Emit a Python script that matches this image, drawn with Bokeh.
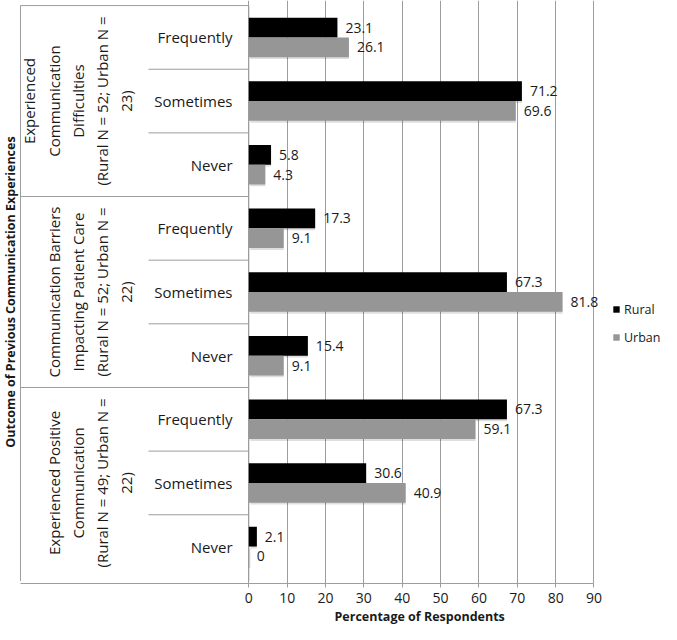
import math
from bokeh.plotting import figure
from bokeh.models import (FactorRange, Range1d, FixedTicker, Legend, LegendItem,
                          Title, ColumnDataSource)
from bokeh.transform import dodge
from bokeh.core.properties import value
from bokeh.embed import file_html
from bokeh.resources import INLINE

# ---------------- data ----------------
group_keys = ["Difficulties", "Barriers", "Positive"]
group_labels = [
    "Experienced\nCommunication\nDifficulties\n(Rural N = 52; Urban N =\n23)",
    "Communication Barriers\nImpacting Patient Care\n(Rural N = 52; Urban N =\n22)",
    "Experienced Positive\nCommunication\n(Rural N = 49; Urban N =\n22)",
]
responses = ["Frequently", "Sometimes", "Never"]
rural = [23.1, 71.2, 5.8, 17.3, 67.3, 15.4, 67.3, 30.6, 2.1]
urban = [26.1, 69.6, 4.3, 9.1, 81.8, 9.1, 59.1, 40.9, 0.0]
series_names = ["Rural", "Urban"]
x_ticks = [0, 10, 20, 30, 40, 50, 60, 70, 80, 90]
y_title = "Outcome of Previous Communication Experiences"
x_title = "Percentage of Respondents"

# ---------------- style / layout ----------------
FONT = "Open Sans"
TXT = "#1a1a1a"
LINE = "#9d9d9d"
RURAL_C = "#000000"
URBAN_C = "#969696"
PAD = 0.08
BAR_H = 0.31
TABLE_LEFT = -59.53
SUB_LEFT = -26.15
SUB_TEXT_X = -4.25
GROUP_TEXT_X = -29.36
YTITLE_X = -62.1

rows = [(g, r) for g in group_keys for r in responses]  # top -> bottom
last_in_group = [r == responses[-1] for (g, r) in rows]

yr = FactorRange(factors=list(reversed(rows)), range_padding=PAD,
                 range_padding_units="absolute", group_padding=0,
                 factor_padding=0)

p = figure(width=661, height=624, x_range=Range1d(-64.74, 107.6), y_range=yr,
           y_axis_location=None, output_backend="svg", toolbar_location=None,
           min_border_left=0, min_border_right=0, min_border_top=0,
           min_border_bottom=0, outline_line_color=None,
           background_fill_color="white", border_fill_color="white")

p.ygrid.visible = False
p.xgrid.ticker = FixedTicker(ticks=x_ticks)
p.xgrid.grid_line_color = LINE
p.xgrid.grid_line_width = 1

ax = p.xaxis[0]
ax.ticker = FixedTicker(ticks=x_ticks)
ax.bounds = (TABLE_LEFT, 90)
ax.axis_line_color = LINE
ax.major_tick_line_color = LINE
ax.major_tick_out = 4
ax.major_tick_in = 0
ax.minor_tick_line_color = None
ax.major_label_standoff = 5
ax.major_label_text_font = FONT
ax.major_label_text_font_size = "14px"
ax.major_label_text_color = TXT

src = ColumnDataSource(dict(
    row=rows,
    rural=rural,
    urban=urban,
    rural_lbl=[f"{v:g}" for v in rural],
    urban_lbl=[f"{v:g}" for v in urban],
    resp=[r for (g, r) in rows],
))

# table lines: row separators (the last one is the axis line itself)
sep = ColumnDataSource(dict(
    row=rows[:-1],
    x0=[TABLE_LEFT if last else SUB_LEFT for last in last_in_group[:-1]],
    x1=[0] * (len(rows) - 1),
))
p.segment(x0="x0", x1="x1", y0=dodge("row", -0.5, range=yr),
          y1=dodge("row", -0.5, range=yr), source=sep, line_color=LINE, line_width=1)

# top border
p.segment(x0=TABLE_LEFT, x1=0, y0=dodge("top", 0.5, range=yr), y1=dodge("top", 0.5, range=yr),
          source=ColumnDataSource(dict(top=[rows[0]])), line_color=LINE, line_width=1)
# left border and y axis line
vert = ColumnDataSource(dict(top=[rows[0], rows[0]], bot=[rows[-1], rows[-1]],
                             x=[TABLE_LEFT, 0]))
p.segment(x0="x", x1="x", y0=dodge("bot", -0.5 - PAD / 2, range=yr),
          y1=dodge("top", 0.5, range=yr), source=vert, line_color=LINE, line_width=1)

# bar shadows
p.hbar(y=dodge("row", BAR_H / 2 - 0.03, range=yr), left=0.4, right="rural", height=BAR_H,
       source=src, fill_color="black", fill_alpha=0.13, line_color=None)
p.hbar(y=dodge("row", -BAR_H / 2 - 0.03, range=yr), left=0.4, right="urban", height=BAR_H,
       source=src, fill_color="black", fill_alpha=0.13, line_color=None)

# bars
r_rural = p.hbar(y=dodge("row", BAR_H / 2, range=yr), left=0, right="rural", height=BAR_H,
                 source=src, fill_color=RURAL_C, line_color=None)
r_urban = p.hbar(y=dodge("row", -BAR_H / 2, range=yr), left=0, right="urban", height=BAR_H,
                 source=src, fill_color=URBAN_C, line_color=None)

# value labels
for fld, off in (("rural", BAR_H / 2), ("urban", -BAR_H / 2)):
    p.text(x=fld, y=dodge("row", off, range=yr), text=fld + "_lbl", source=src,
           x_offset=8, text_align="left", text_baseline="middle",
           text_font=value(FONT), text_font_size="14px", text_color=TXT)

# response labels
p.text(x=SUB_TEXT_X, y="row", text="resp", source=src, text_align="right",
       text_baseline="middle", text_font=value(FONT), text_font_size="15px",
       text_color=TXT)

# group labels
gsrc = ColumnDataSource(dict(row=[(g, responses[1]) for g in group_keys], lbl=group_labels))
p.text(x=GROUP_TEXT_X, y="row", text="lbl", source=gsrc, angle=math.pi / 2,
       text_align="center", text_baseline="bottom", text_line_height=1.21,
       text_font=value(FONT), text_font_size="15px", text_color=TXT)

# y title
tsrc = ColumnDataSource(dict(row=[(group_keys[1], responses[1])], t=[y_title]))
p.text(x=YTITLE_X, y="row", text="t", source=tsrc, angle=math.pi / 2,
       text_align="center", text_baseline="middle", text_font=value(FONT),
       text_font_size="12.5px", text_font_style="bold", text_color=TXT)

# x title
xt = Title(text=x_title, align="left", offset=334, text_font=FONT,
           text_font_size="12.5px", text_font_style="bold", text_color=TXT,
           standoff=0)
p.add_layout(xt, "below")

legend = Legend(items=[LegendItem(label=series_names[0], renderers=[r_rural]),
                       LegendItem(label=series_names[1], renderers=[r_urban])],
                location=(612, 236), glyph_width=8, glyph_height=8, label_height=20,
                spacing=8, padding=0, margin=0, label_standoff=4,
                label_text_font=FONT, label_text_font_size="12.5px",
                label_text_color=TXT, border_line_color=None,
                background_fill_alpha=0)
p.add_layout(legend)

open("out.html", "w").write(file_html(p, INLINE))
